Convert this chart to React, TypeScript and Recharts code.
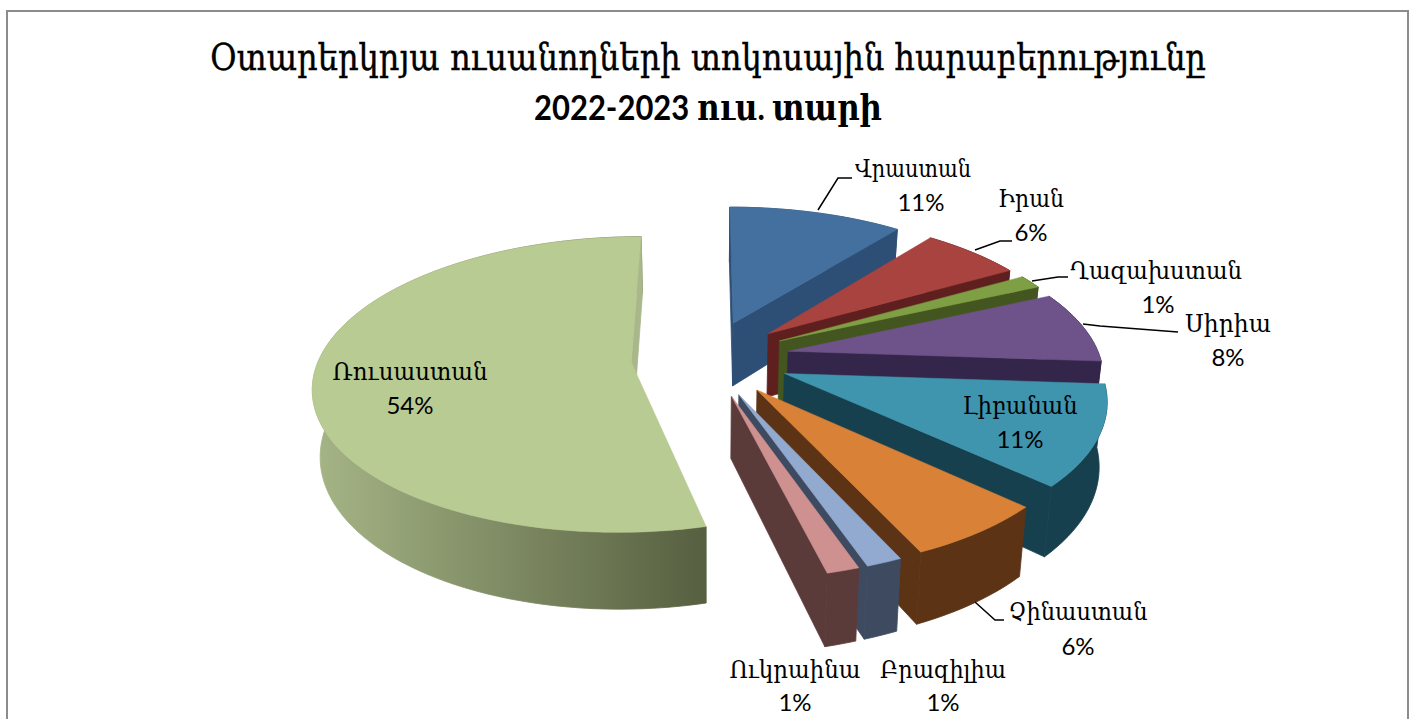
import React from 'react';
import { PieChart, Pie } from 'recharts';

const CATEGORIES = ['Վրաստան', 'Իրան', 'Ղազախստան', 'Սիրիա', 'Լիբանան', 'Չինաստան', 'Բրազիլիա', 'Ուկրաինա', 'Ռուսաստան'];
// percent printed on each label
const PRINTED = [11, 6, 1, 8, 11, 6, 1, 1, 54];
// slice sizes, in percent of the circle
const SIZES = [10.6, 6.1, 1.5, 7.9, 10.9, 6.2, 1.55, 1.4, 53.85];

const TOP_COLORS = ['#44709f', '#a8433f', '#7f9f45', '#6d5389', '#3f95ae', '#d98137', '#92a9d0', '#cf9190', '#b8cb92'];
const SIDE_COLORS = ['#2d4f76', '#5f1f1e', '#44561f', '#34264a', '#17404e', '#5c3315', '#3d4a60', '#5b3a3a', '#a9b78a'];
const WALL_LEFT = ['#2d4f76', '#5f1f1e', '#44561f', '#34264a', '#17404e', '#5c3315', '#3d4a60', '#5b3a3a', '#a6b586'];
const WALL_RIGHT = ['#2d4f76', '#5f1f1e', '#44561f', '#34264a', '#17404e', '#5c3315', '#3d4a60', '#5b3a3a', '#565f40'];

// how far each slice is pulled out of the pie, and how thick it is drawn
const EXPLOSION = [83, 83, 83, 83, 83, 83, 83, 83, 76];
const DEPTHS = [65, 65, 65, 65, 62, 60, 60, 60, 65];

const data = CATEGORIES.map((name, i) => ({ name, value: SIZES[i], printed: PRINTED[i], fill: TOP_COLORS[i] }));

// label placement: centre x, baseline of name, baseline of percent, name width, leader line
const LABELS: { x: number; y1: number; y2: number; px: number; w: number; line?: string }[] = [
  { x: 913, y1: 177, y2: 211, px: 921, w: 116, line: '818,210 838,178 852,178' },
  { x: 1031, y1: 207, y2: 241, px: 1031, w: 66, line: '975,250 1000,241 1012,241' },
  { x: 1156, y1: 279, y2: 313, px: 1158, w: 172, line: '1032,281 1058,277 1068,277' },
  { x: 1228, y1: 332, y2: 366, px: 1228, w: 86, line: '1083,324 1100,326 1178,332' },
  { x: 1020, y1: 414, y2: 448, px: 1020, w: 115 },
  { x: 1078, y1: 620, y2: 655, px: 1078, w: 139, line: '975,602 995,620 1004,620' },
  { x: 943, y1: 678, y2: 711, px: 943, w: 126 },
  { x: 795, y1: 678, y2: 711, px: 795, w: 131 },
  { x: 410, y1: 380, y2: 414, px: 410, w: 155 },
];

const NAME_FONT = '"DejaVu Serif", serif';
const NUM_FONT = 'Lato, "DejaVu Serif", sans-serif';

const PERSP = 0.15;
const TILT = 0.459;

const Slice3D = (props: any) => {
  const { cx, cy, outerRadius: R, startAngle, endAngle, index } = props;
  const project = (X: number, V: number, z: number) => {
    const s = 1 / (1 - (PERSP * V) / R);
    return [cx + X * s * (1 - 0.02 * z), cy + TILT * V * s + z * DEPTHS[index] * s];
  };
  const rad = Math.PI / 180;
  const mid = ((startAngle + endAngle) / 2) * rad;
  const ex = Math.cos(mid) * EXPLOSION[index];
  const ev = -Math.sin(mid) * EXPLOSION[index];

  const point = (deg: number, r: number, z: number) =>
    project(ex + r * Math.cos(deg * rad), ev - r * Math.sin(deg * rad), z);

  const steps = Math.max(2, Math.ceil(Math.abs(endAngle - startAngle) / 2));
  const arc = (z: number) => {
    const pts = [];
    for (let i = 0; i <= steps; i++) pts.push(point(startAngle + ((endAngle - startAngle) * i) / steps, R, z));
    return pts;
  };
  const toPts = (p: number[][]) => p.map((q) => q.join(',')).join(' ');
  const area = (p: number[][]) =>
    p.reduce((sum, q, i) => {
      const n = p[(i + 1) % p.length];
      return sum + q[0] * n[1] - n[0] * q[1];
    }, 0);

  const apexT = point(0, 0, 0);
  const apexB = point(0, 0, 1);
  const topArc = arc(0);
  const botArc = arc(1);
  const startWall = [apexT, topArc[0], botArc[0], apexB];
  const endWall = [topArc[steps], apexT, apexB, botArc[steps]];
  const outerWall = [...topArc, ...[...botArc].reverse()];
  const xs = outerWall.map((p) => p[0]);
  const gradId = `wall-${index}`;
  const side = SIDE_COLORS[index];

  return (
    <g>
      <defs>
        <linearGradient id={gradId} gradientUnits="userSpaceOnUse" x1={Math.min(...xs)} x2={Math.max(...xs)} y1={0} y2={0}>
          <stop offset="0%" stopColor={WALL_LEFT[index]} />
          <stop offset="100%" stopColor={WALL_RIGHT[index]} />
        </linearGradient>
      </defs>
      <polygon points={toPts(outerWall)} fill={`url(#${gradId})`} stroke={`url(#${gradId})`} strokeWidth={0.8} />
      {area(startWall) < 0 && <polygon points={toPts(startWall)} fill={side} stroke={side} strokeWidth={0.8} />}
      {area(endWall) < 0 && <polygon points={toPts(endWall)} fill={side} stroke={side} strokeWidth={0.8} />}
      <polygon points={toPts([apexT, ...topArc])} fill={props.fill} stroke={props.fill} strokeWidth={0.5} />
    </g>
  );
};

const SliceLabel = (props: any) => {
  const { index, name } = props;
  const l = LABELS[index];
  return (
    <g>
      {l.line && <polyline points={l.line} fill="none" stroke="#000" strokeWidth={1.5} />}
      <text x={l.x} y={l.y1} textAnchor="middle" fontFamily={NAME_FONT} fontSize={25} fill="#000" textLength={l.w} lengthAdjust="spacingAndGlyphs">
        {name}
      </text>
      <text x={l.px} y={l.y2} textAnchor="middle" fontFamily={NUM_FONT} fontSize={24} fill="#000">
        {PRINTED[index]}%
      </text>
    </g>
  );
};

export default function App() {
  return (
    <div style={{ position: 'absolute', left: 0, top: 0, width: 1414, height: 719, overflow: 'hidden', background: '#fff' }}>
      <div style={{ position: 'absolute', left: 6, top: 10, width: 1399, height: 800, border: '2px solid #8c8c8c' }} />
      <div style={{ position: 'absolute', left: 0, top: 0 }}>
        <PieChart width={1414} height={719}>
          <text x={708} y={70} textAnchor="middle" fontFamily={NAME_FONT} fontSize={37} stroke="#000" strokeWidth={0.4} fill="#000" textLength={996} lengthAdjust="spacingAndGlyphs">
            Օտարերկրյա ուսանողների տոկոսային հարաբերությունը
          </text>
          <text x={708} y={120} textAnchor="middle" fontFamily={NUM_FONT} fontWeight={700} fontSize={35} fill="#000" textLength={348} lengthAdjust="spacingAndGlyphs">
            2022-2023 ուս. տարի
          </text>
          <Pie
            data={data}
            dataKey="value"
            nameKey="name"
            cx={702}
            cy={353}
            innerRadius={0}
            outerRadius={312}
            startAngle={90}
            endAngle={-270}
            stroke="none"
            shape={Slice3D}
            label={SliceLabel}
            labelLine={false}
            isAnimationActive={false}
          />
        </PieChart>
      </div>
    </div>
  );
}
